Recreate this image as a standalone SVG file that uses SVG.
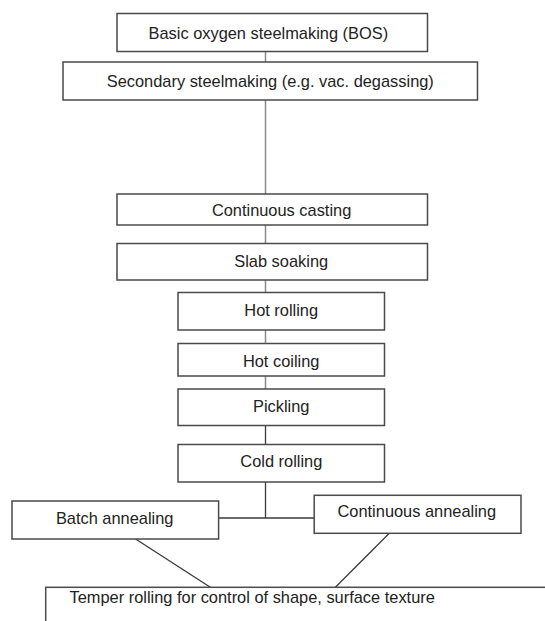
<svg xmlns="http://www.w3.org/2000/svg" width="545" height="621" viewBox="0 0 545 621">
<style>
.box{fill:#fff;stroke:#4a4a4a;stroke-width:1.5}
.t{font-family:"Liberation Sans",Arial,sans-serif;font-size:16.4px;fill:#222}
.c{text-anchor:middle}
.ln{stroke:#8a8a8a;stroke-width:1.5;fill:none}
.ld{stroke:#3a3a3a;stroke-width:1.3;fill:none}
</style>
<rect width="545" height="621" fill="#fff"/>
<g id="connectors">
<line class="ln" x1="265.5" y1="51.5" x2="265.5" y2="62"/>
<line class="ln" x1="265.5" y1="100" x2="265.5" y2="194"/>
<line class="ln" x1="265.5" y1="225" x2="265.5" y2="243.5"/>
<line class="ln" x1="265.5" y1="280" x2="265.5" y2="292.5"/>
<line class="ln" x1="265.5" y1="330" x2="265.5" y2="343.5"/>
<line class="ln" x1="265.5" y1="376" x2="265.5" y2="389"/>
<line class="ld" x1="265.5" y1="425.5" x2="265.5" y2="444.5"/>
<line class="ld" x1="265.5" y1="482" x2="265.5" y2="518"/>
<line class="ld" x1="218.6" y1="518" x2="314.2" y2="518"/>
<line class="ld" x1="135.6" y1="539" x2="210.3" y2="587.3"/>
<line class="ld" x1="389.3" y1="533.3" x2="335.4" y2="587.3"/>
</g>
<g id="bos"><rect class="box" x="117" y="13.5" width="310.5" height="38"/><text class="t c" x="268.3" y="39">Basic oxygen steelmaking (BOS)</text></g>
<g id="secondary"><rect class="box" x="63" y="62" width="414.5" height="38"/><text class="t c" x="270.3" y="87">Secondary steelmaking (e.g. vac. degassing)</text></g>
<g id="casting"><rect class="box" x="117" y="194" width="310.5" height="31"/><text class="t c" x="281.6" y="216">Continuous casting</text></g>
<g id="soaking"><rect class="box" x="117" y="243.5" width="310.5" height="36.5"/><text class="t c" x="281.2" y="267.3">Slab soaking</text></g>
<g id="hotrolling"><rect class="box" x="178" y="292.5" width="206.5" height="37.5"/><text class="t c" x="281.2" y="316">Hot rolling</text></g>
<g id="hotcoiling"><rect class="box" x="178" y="343.5" width="206.5" height="32.5"/><text class="t c" x="281.2" y="367.3">Hot coiling</text></g>
<g id="pickling"><rect class="box" x="178" y="389" width="206.5" height="36.5"/><text class="t c" x="281.2" y="411.7">Pickling</text></g>
<g id="coldrolling"><rect class="box" x="178" y="444.5" width="206.5" height="37.5"/><text class="t c" x="281.3" y="467.3">Cold rolling</text></g>
<g id="batch"><rect class="box" x="12" y="501" width="206.6" height="38"/><text class="t c" x="114.7" y="524">Batch annealing</text></g>
<g id="contanneal"><rect class="box" x="314.2" y="495.3" width="206.8" height="38"/><text class="t c" x="416.8" y="517.3">Continuous annealing</text></g>
<g id="temper"><rect class="box" x="45.7" y="587.3" width="510" height="50"/><text class="t" x="69.5" y="603.3">Temper rolling for control of shape, surface texture</text></g>
</svg>
